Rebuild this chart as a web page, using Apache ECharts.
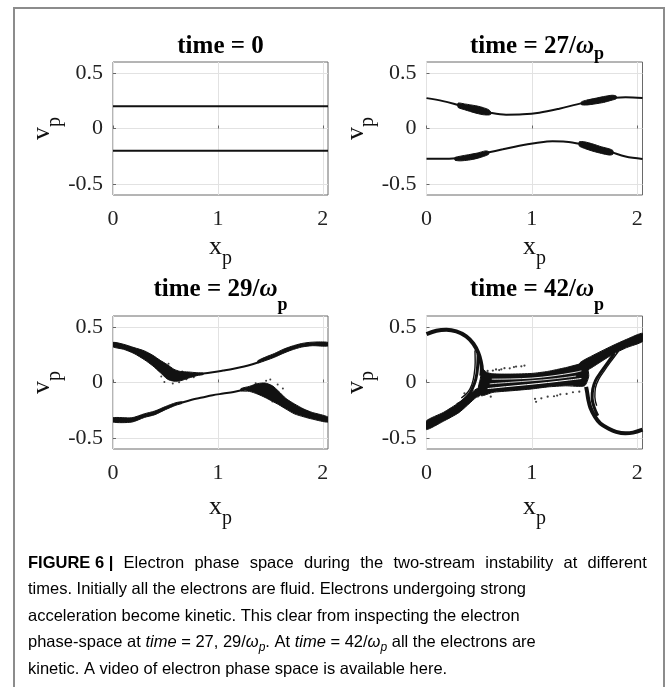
<!DOCTYPE html>
<html>
<head>
<meta charset="utf-8">
<script src="https://cdn.jsdelivr.net/npm/echarts@6/dist/echarts.min.js"></script>
<style>
  html, body { margin: 0; padding: 0; background: #fff; }
  #chart { width: 672px; height: 687px; }
</style>
</head>
<body>
<div id="chart"></div>
<script>
// Axis ticks shared by all four phase-space panels
const xTicks = [0, 1, 2];
const vTicks = [-0.5, 0, 0.5];
const xMax = 2.05;
const vMin = -0.6, vMax = 0.6;

// Panel titles (time in units of 1/omega_p)
const panelTimes = ['0', '27', '29', '42'];

// ---- time = 0 : two cold counter-streaming beams ----
const t0Upper = [[0, 0.2], [2.05, 0.2]];
const t0Lower = [[0, -0.2], [2.05, -0.2]];

// ---- time = 27 : modulated beams ----
const t27Upper = [[0, 0.274], [0.157, 0.247], [0.315, 0.208], [0.472, 0.170], [0.598, 0.143],
  [0.755, 0.125], [0.913, 0.128], [1.07, 0.143], [1.26, 0.179], [1.48, 0.229],
  [1.64, 0.253], [1.79, 0.277], [1.89, 0.283], [2.05, 0.276]];
const t27Lower = [[0, -0.274], [0.157, -0.274], [0.283, -0.268], [0.409, -0.253], [0.582, -0.217],
  [0.724, -0.188], [0.881, -0.155], [1.039, -0.131], [1.196, -0.116], [1.322, -0.119],
  [1.464, -0.140], [1.605, -0.173], [1.747, -0.211], [1.889, -0.253], [2.05, -0.275]];
// kinetic clusters: [x, v_low, v_high]
const t27ClusterA = [[0.30, 0.190, 0.230], [0.36, 0.170, 0.222], [0.42, 0.152, 0.213],
  [0.48, 0.136, 0.203], [0.54, 0.124, 0.188], [0.59, 0.122, 0.170], [0.61, 0.128, 0.150]];
const t27ClusterB = [[1.47, 0.215, 0.240], [1.52, 0.212, 0.256], [1.60, 0.222, 0.272],
  [1.68, 0.235, 0.288], [1.76, 0.256, 0.300], [1.80, 0.268, 0.294]];
const t27ClusterC = [[0.27, -0.286, -0.262], [0.32, -0.292, -0.250], [0.40, -0.285, -0.236],
  [0.48, -0.270, -0.222], [0.56, -0.246, -0.202], [0.59, -0.232, -0.208]];
const t27ClusterD = [[1.45, -0.158, -0.120], [1.50, -0.180, -0.120], [1.58, -0.205, -0.140],
  [1.66, -0.225, -0.165], [1.74, -0.240, -0.185], [1.77, -0.232, -0.200]];

// ---- time = 29 : beams thickening into blobs ----
const t29UpperBandL = [[0, 0.322, 0.362], [0.10, 0.300, 0.345], [0.20, 0.262, 0.315],
  [0.30, 0.205, 0.285], [0.38, 0.150, 0.245], [0.45, 0.090, 0.200], [0.52, 0.030, 0.160],
  [0.58, 0.012, 0.120], [0.64, 0.015, 0.100], [0.72, 0.040, 0.095], [0.80, 0.062, 0.088],
  [0.86, 0.072, 0.085]];
const t29UpperLine = [[0.84, 0.078], [0.95, 0.092], [1.05, 0.108], [1.15, 0.125],
  [1.25, 0.145], [1.33, 0.165], [1.40, 0.186]];
const t29UpperBandR = [[1.38, 0.176, 0.196], [1.46, 0.200, 0.232], [1.54, 0.228, 0.262],
  [1.62, 0.262, 0.298], [1.70, 0.292, 0.326], [1.80, 0.320, 0.352], [1.90, 0.332, 0.364],
  [2.05, 0.330, 0.362]];
const t29LowerBandL = [[0, -0.357, -0.318], [0.18, -0.357, -0.318], [0.30, -0.315, -0.282],
  [0.40, -0.290, -0.257], [0.50, -0.245, -0.217], [0.60, -0.205, -0.182], [0.66, -0.188, -0.174]];
const t29LowerLine = [[0.66, -0.181], [0.75, -0.155], [0.85, -0.135], [0.95, -0.115],
  [1.05, -0.100], [1.15, -0.085], [1.25, -0.065]];
const t29LowerBandR = [[1.22, -0.075, -0.055], [1.30, -0.080, -0.035], [1.38, -0.105, -0.010],
  [1.45, -0.135, -0.005], [1.52, -0.170, -0.030], [1.58, -0.200, -0.080], [1.65, -0.240, -0.145],
  [1.73, -0.283, -0.193], [1.82, -0.310, -0.240], [1.90, -0.330, -0.270], [2.05, -0.357, -0.312]];
const t29Speckles = [[0.49, 0.004], [0.57, -0.008], [0.63, 0.002], [0.70, 0.030], [0.77, 0.048],
  [0.46, 0.055], [1.46, 0.016], [1.50, 0.028], [1.36, -0.006], [1.62, -0.055], [1.57, -0.018],
  [0.66, 0.100], [1.41, -0.104], [0.53, 0.170], [1.52, -0.172]];

// ---- time = 42 : trapped-particle vortices ----
const t42LeftArc = [[0, 0.437], [0.094, 0.467], [0.189, 0.476], [0.283, 0.461], [0.377, 0.417],
  [0.445, 0.350], [0.490, 0.270], [0.515, 0.190], [0.525, 0.120], [0.520, 0.060]];
const t42LeftInner = [[0.49, 0.26], [0.487, 0.17], [0.478, 0.08], [0.455, -0.01], [0.41, -0.10],
  [0.34, -0.17], [0.29, -0.20]];
const t42LeftInner2 = [[0.46, 0.29], [0.462, 0.18], [0.452, 0.07], [0.43, -0.02], [0.39, -0.09],
  [0.33, -0.14]];
const t42RightArc = [[2.05, -0.425], [1.96, -0.452], [1.887, -0.458], [1.80, -0.445], [1.73, -0.417],
  [1.65, -0.370], [1.60, -0.310], [1.555, -0.225], [1.535, -0.150], [1.525, -0.090], [1.515, -0.040]];
const t42RightInner = [[1.78, 0.26], [1.72, 0.18], [1.66, 0.10], [1.605, 0.02], [1.578, -0.06],
  [1.572, -0.14], [1.59, -0.22], [1.625, -0.30]];
const t42RightInner2 = [[1.82, 0.28], [1.75, 0.19], [1.69, 0.11], [1.635, 0.03], [1.603, -0.05],
  [1.598, -0.13], [1.615, -0.21]];
// closed outlines [x, v]
const t42LowerLeftBand = [[0, -0.345], [0.16, -0.270], [0.31, -0.180], [0.47, -0.060], [0.52, -0.050],
  [0.50, -0.125], [0.47, -0.135], [0.31, -0.270], [0.16, -0.350], [0, -0.425]];
const t42UpperRightBand = [[1.45, 0.170], [1.57, 0.240], [1.76, 0.330], [1.90, 0.390], [2.05, 0.445],
  [2.05, 0.370], [1.90, 0.315], [1.76, 0.250], [1.57, 0.135], [1.52, 0.105], [1.50, 0.060]];
const t42CentralBand = [[0.53, 0.125], [0.57, 0.092], [0.63, 0.078], [0.80, 0.076], [1.00, 0.082],
  [1.15, 0.100], [1.32, 0.134], [1.51, 0.170], [1.54, 0.060], [1.50, -0.030], [1.32, -0.030],
  [1.15, -0.040], [1.00, -0.058], [0.80, -0.075], [0.63, -0.089], [0.52, -0.120], [0.49, -0.060],
  [0.51, 0.030]];
// light filaments inside the central band
const t42Filament1 = [[0.58, -0.055], [0.75, -0.038], [0.95, -0.020], [1.15, 0.000], [1.35, 0.022], [1.47, 0.036]];
const t42Filament2 = [[0.62, 0.030], [0.80, 0.032], [1.00, 0.040], [1.20, 0.060], [1.40, 0.090], [1.47, 0.105]];
const t42Filament3 = [[0.60, -0.012], [0.80, 0.002], [1.00, 0.016], [1.20, 0.032], [1.42, 0.058]];
// sparse stripped electrons
const t42Dots = [[0.58, 0.104], [0.63, 0.108], [0.66, 0.118], [0.71, 0.119], [0.74, 0.129],
  [0.79, 0.128], [0.83, 0.139], [0.85, 0.144], [0.90, 0.146], [0.93, 0.153],
  [1.03, -0.147], [1.09, -0.143], [1.15, -0.128], [1.21, -0.124], [1.27, -0.107],
  [1.33, -0.103], [1.39, -0.088], [1.45, -0.083], [1.04, -0.174], [0.36, -0.098], [0.61, -0.128],
  [0.69, 0.112], [1.24, -0.118]];

// ---- styling ----
const serif = '"Liberation Serif", "Times New Roman", serif';
const sans = '"Liberation Sans", Arial, sans-serif';
const ink = '#111';

const grids = [
  { left: 113, top: 62, width: 215, height: 133 },
  { left: 426.5, top: 62, width: 216, height: 133 },
  { left: 113, top: 316, width: 215, height: 133 },
  { left: 426.5, top: 316, width: 216, height: 133 }
].map(g => Object.assign({ show: true, borderColor: '#6a6a6a', borderWidth: 1, backgroundColor: 'transparent' }, g));

const nameRich = {
  m: { fontFamily: serif, fontSize: 26, color: ink },
  s: { fontFamily: serif, fontSize: 20, color: ink, padding: [24, 0, 0, 0] }
};
const xNameGaps = [30, 30, 36, 36];

const xAxes = grids.map((g, i) => ({
  type: 'value', gridIndex: i, min: 0, max: xMax,
  name: '{m|x}{s|p}', nameLocation: 'middle', nameGap: xNameGaps[i],
  nameTextStyle: { rich: nameRich },
  axisLine: { show: false },
  axisTick: { show: true, inside: true, length: 3, customValues: xTicks, lineStyle: { color: '#666' } },
  axisLabel: { customValues: xTicks, margin: 13, fontFamily: serif, fontSize: 22, color: '#222' },
  splitLine: { show: true, lineStyle: { color: '#e2e2e2', width: 1 } }
}));

const yAxes = grids.map((g, i) => ({
  type: 'value', gridIndex: i, min: vMin, max: vMax,
  name: '{m|v}{s|p}', nameLocation: 'middle', nameGap: 48, nameRotate: 90,
  nameTextStyle: { rich: nameRich },
  axisLine: { show: false },
  axisTick: { show: true, inside: true, length: 3, customValues: vTicks, lineStyle: { color: '#666' } },
  axisLabel: { customValues: vTicks, margin: 10, fontFamily: serif, fontSize: 22, color: '#222' },
  splitLine: { show: true, lineStyle: { color: '#e2e2e2', width: 1 } }
}));

function curve(data, idx, width, color, smooth) {
  return {
    type: 'line', xAxisIndex: idx, yAxisIndex: idx, data: data,
    showSymbol: false, smooth: smooth === undefined ? 0.35 : smooth, silent: true,
    lineStyle: { color: color || ink, width: width || 2 }, z: 3
  };
}

// outline of a band given rows [x, low, high]
function bandOutline(rows) {
  const top = rows.map(r => [r[0], r[2]]);
  const bottom = rows.slice().reverse().map(r => [r[0], r[1]]);
  return top.concat(bottom);
}

function shape(verts, idx, smooth, z) {
  return {
    type: 'custom', xAxisIndex: idx, yAxisIndex: idx, data: verts, silent: true, clip: true, z: z || 4,
    renderItem: function (params, api) {
      if (params.dataIndex !== 0) return null;
      return {
        type: 'polygon',
        shape: { points: verts.map(p => api.coord(p)), smooth: smooth === undefined ? 0.3 : smooth },
        style: { fill: ink, stroke: ink, lineWidth: 1 }
      };
    }
  };
}

function dots(data, idx, size) {
  return {
    type: 'scatter', xAxisIndex: idx, yAxisIndex: idx, data: data, silent: true,
    symbolSize: size || 2, itemStyle: { color: ink }, z: 5
  };
}

function light(data, idx, width) {
  const s = curve(data, idx, width, '#fff');
  s.z = 6;
  return s;
}

const series = [
  curve(t0Upper, 0, 2, ink, false), curve(t0Lower, 0, 2, ink, false),

  curve(t27Upper, 1, 2), curve(t27Lower, 1, 2),
  shape(bandOutline(t27ClusterA), 1, 0.2), shape(bandOutline(t27ClusterB), 1, 0.2),
  shape(bandOutline(t27ClusterC), 1, 0.2), shape(bandOutline(t27ClusterD), 1, 0.2),

  shape(bandOutline(t29UpperBandL), 2, 0.25), curve(t29UpperLine, 2, 2),
  shape(bandOutline(t29UpperBandR), 2, 0.25),
  shape(bandOutline(t29LowerBandL), 2, 0.25), curve(t29LowerLine, 2, 2),
  shape(bandOutline(t29LowerBandR), 2, 0.25),
  dots(t29Speckles, 2, 2),

  curve(t42LeftArc, 3, 4), curve(t42LeftInner, 3, 3), curve(t42LeftInner2, 3, 1.4),
  curve(t42RightArc, 3, 4), curve(t42RightInner, 3, 3), curve(t42RightInner2, 3, 1.4),
  shape(t42LowerLeftBand, 3, 0.2), shape(t42UpperRightBand, 3, 0.2), shape(t42CentralBand, 3, 0.2),
  light(t42Filament1, 3, 1.0), light(t42Filament2, 3, 0.9), light(t42Filament3, 3, 0.8),
  dots(t42Dots, 3, 2.2)
];

// panel titles
function titleRich(subPad) {
  return {
    a: { fontFamily: serif, fontSize: 25, fontWeight: 'bold', color: ink },
    w: { fontFamily: serif, fontSize: 25, fontWeight: 'bold', fontStyle: 'italic', color: ink },
    s: { fontFamily: serif, fontSize: 18, fontWeight: 'bold', color: ink, padding: [subPad, 0, 0, 0] }
  };
}
const titleCenters = [[220.5, 47], [537, 47], [220.5, 290], [537, 290]];
const titleSubPads = [14, 14, 30, 30];
const titleGraphics = panelTimes.map((t, i) => ({
  type: 'text', x: titleCenters[i][0], y: titleCenters[i][1], silent: true,
  style: {
    text: t === '0' ? '{a|time = 0}' : '{a|time = ' + t + '/}{w|ω}{s|p}',
    rich: titleRich(titleSubPads[i]), align: 'center', verticalAlign: 'middle'
  }
}));

// figure caption
const capSize = 16.5, capLead = 26.5;
const capRich = {
  b: { fontFamily: sans, fontSize: capSize, fontWeight: 'bold', color: '#222', lineHeight: capLead },
  r: { fontFamily: sans, fontSize: capSize, color: '#2a2a2a', lineHeight: capLead },
  g: { fontFamily: sans, fontSize: capSize, color: '#2a2a2a', lineHeight: capLead, width: 10.3 },
  i: { fontFamily: sans, fontSize: capSize, fontStyle: 'italic', color: '#2a2a2a', lineHeight: capLead },
  s: { fontFamily: sans, fontSize: 12, fontStyle: 'italic', color: '#2a2a2a', lineHeight: capLead, padding: [9, 0, 0, 0] }
};
const captionHead = 'FIGURE 6 |';
const captionFirst = ['Electron', 'phase', 'space', 'during', 'the', 'two-stream', 'instability', 'at', 'different'];
const captionLines = [
  '{b|' + captionHead + '}{g| }' + captionFirst.map(w => '{r|' + w + '}').join('{g| }'),
  '{r|times. Initially all the electrons are fluid. Electrons undergoing strong}',
  '{r|acceleration become kinetic. This clear from inspecting the electron}',
  '{r|phase-space at }{i|time}{r| = 27, 29/}{i|ω}{s|p}{r|. At }{i|time}{r| = 42/}{i|ω}{s|p}{r| all the electrons are}',
  '{r|kinetic. A video of electron phase space is available here.}'
];

const graphics = titleGraphics.concat([
  {
    type: 'rect', silent: true, z: 0,
    shape: { x: 14, y: 8, width: 650, height: 700 },
    style: { fill: 'none', stroke: '#8c8c8c', lineWidth: 2 }
  },
  {
    type: 'text', x: 28, y: 550, silent: true,
    style: { text: captionLines.join('\n'), rich: capRich, align: 'left', verticalAlign: 'top' }
  }
]);

const chart = echarts.init(document.getElementById('chart'), null, { renderer: 'canvas' });
chart.setOption({
  animation: false,
  backgroundColor: '#fff',
  grid: grids,
  xAxis: xAxes,
  yAxis: yAxes,
  series: series,
  graphic: graphics
});
</script>
</body>
</html>
